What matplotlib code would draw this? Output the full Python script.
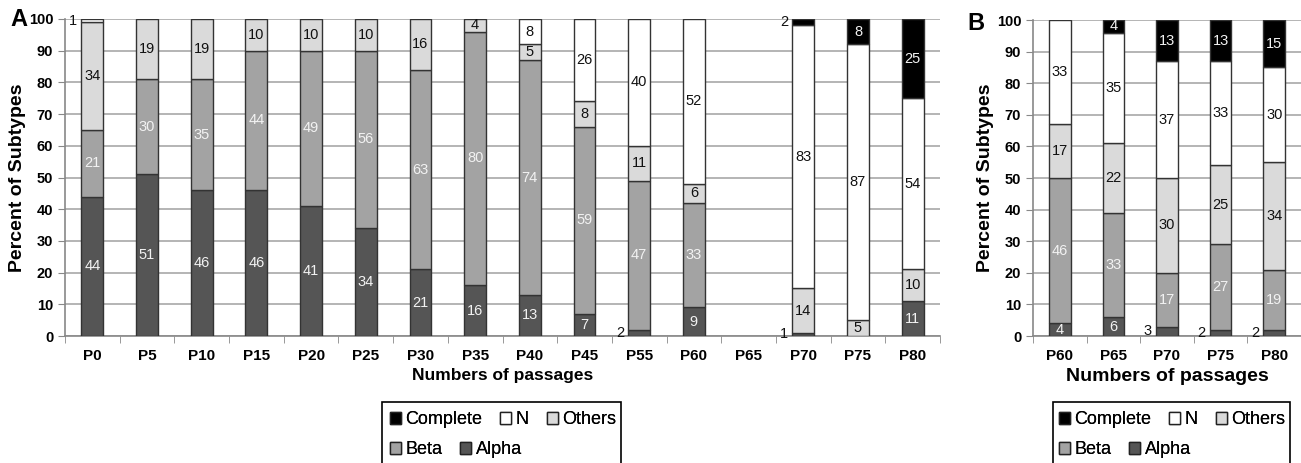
import numpy as np
import matplotlib.pyplot as plt
from matplotlib.patches import Patch, Rectangle

plt.rcParams['font.family'] = ['Liberation Sans', 'DejaVu Sans']

# panel A data
cats_a = ['P0', 'P5', 'P10', 'P15', 'P20', 'P25', 'P30', 'P35', 'P40', 'P45',
          'P55', 'P60', 'P65', 'P70', 'P75', 'P80']
alpha_a = [44, 51, 46, 46, 41, 34, 21, 16, 13, 7, 2, 9, 0, 1, 0, 11]
beta_a = [21, 30, 35, 44, 49, 56, 63, 80, 74, 59, 47, 33, 0, 0, 0, 0]
others_a = [34, 19, 19, 10, 10, 10, 16, 4, 5, 8, 11, 6, 0, 14, 5, 10]
n_a = [1, 0, 0, 0, 0, 0, 0, 0, 8, 26, 40, 52, 0, 83, 87, 54]
complete_a = [0, 0, 0, 0, 0, 0, 0, 0, 0, 0, 0, 0, 0, 2, 8, 25]

# panel B data
cats_b = ['P60', 'P65', 'P70', 'P75', 'P80']
alpha_b = [4, 6, 3, 2, 2]
beta_b = [46, 33, 17, 27, 19]
others_b = [17, 22, 30, 25, 34]
n_b = [33, 35, 37, 33, 30]
complete_b = [0, 4, 13, 13, 15]

names = ['Alpha', 'Beta', 'Others', 'N', 'Complete']
colors = ['#555555', '#a3a3a3', '#dadada', '#ffffff', '#000000']
text_colors = ['#f2f2f2', '#f2f2f2', '#111111', '#111111', '#f2f2f2']
edge = '#333333'
width = 0.4
W, H = 1301, 463


def draw_panel(ax, cats, series, xmax, xlabel_size):
    x = np.arange(len(cats))
    bottom = np.zeros(len(cats))
    for k, vals in enumerate(series):
        vals = np.array(vals, dtype=float)
        m = vals > 0
        ax.bar(x[m], vals[m], width, bottom=bottom[m], color=colors[k],
               edgecolor=edge, linewidth=1.0, zorder=3)
        for i in x[m]:
            v = vals[i]
            if v <= 3:
                # tiny segments get their label outside, to the left
                ax.text(i - width / 2 - 0.08, bottom[i] + v / 2, f'{int(v)}',
                        ha='right', va='center', fontsize=10.5, color='#111111',
                        zorder=4)
            else:
                ax.text(i, bottom[i] + v / 2, f'{int(v)}', ha='center',
                        va='center', fontsize=10.5, color=text_colors[k],
                        zorder=4)
        bottom = bottom + vals

    ax.set_ylim(0, 100)
    ax.set_xlim(-0.5, xmax)
    ax.set_yticks(np.arange(0, 101, 10))
    ax.yaxis.grid(True, color='#a8a8a8', linewidth=1.2, zorder=0)
    ax.set_axisbelow(True)
    ax.set_xticks(x)
    ax.set_xticklabels(cats, fontweight='bold', fontsize=11)
    ax.set_xticks(np.arange(-0.5, len(cats) + 0.5, 1), minor=True)
    ax.tick_params(axis='x', which='major', length=0, pad=9)
    ax.tick_params(axis='x', which='minor', length=5, color='#888888')
    ax.tick_params(axis='y', length=5, color='#888888', labelsize=10.5)
    for lab in ax.get_yticklabels():
        lab.set_fontweight('bold')
    for s in ['top', 'right']:
        ax.spines[s].set_visible(False)
    for s in ['left', 'bottom']:
        ax.spines[s].set_color('#888888')
        ax.spines[s].set_linewidth(1.2)
    ax.set_ylabel('Percent of Subtypes', fontsize=14, fontweight='bold',
                  labelpad=2)
    ax.set_xlabel('Numbers of passages', fontsize=xlabel_size,
                  fontweight='bold', labelpad=4)


def add_legend(fig, x_left, box_left, box_right):
    # two rows laid out like a flowing legend, inside one frame
    rows = [[4, 3, 2], [1, 0]]
    for r, idx in enumerate(rows):
        hs = [Patch(facecolor=colors[k], edgecolor='#222222', linewidth=1.0)
              for k in idx]
        ls = [names[k] for k in idx]
        leg = fig.legend(hs, ls, ncol=len(idx), loc='center left',
                         bbox_to_anchor=(x_left / W, 1 - (420 + 30 * r) / H),
                         frameon=False, fontsize=13, borderpad=0,
                         borderaxespad=0, handlelength=0.6, handleheight=0.6,
                         handletextpad=0.25, columnspacing=1.0)
        fig.add_artist(leg)
    fig.add_artist(Rectangle((box_left / W, -0.05),
                             (box_right - box_left) / W, 0.05 + 1 - 402 / H,
                             transform=fig.transFigure, fill=False,
                             edgecolor='black', linewidth=1.2))


fig = plt.figure(figsize=(W / 100, H / 100), dpi=100)
ax_a = fig.add_axes([65 / W, 1 - 336 / H, 875 / W, 317 / H])
ax_b = fig.add_axes([1033 / W, 1 - 336 / H, 268 / W, 316 / H])

draw_panel(ax_a, cats_a, [alpha_a, beta_a, others_a, n_a, complete_a],
           15.5, 12.5)
draw_panel(ax_b, cats_b, [alpha_b, beta_b, others_b, n_b, complete_b],
           4.37, 14)

add_legend(fig, 390, 382, 621)
add_legend(fig, 1059, 1053, 1290)

fig.text(10 / W, 1 - 20 / H, 'A', fontsize=17, fontweight='bold',
         va='center')
fig.text(967 / W, 1 - 24 / H, 'B', fontsize=17, fontweight='bold',
         va='center')

fig.savefig('out.png', dpi=100)
